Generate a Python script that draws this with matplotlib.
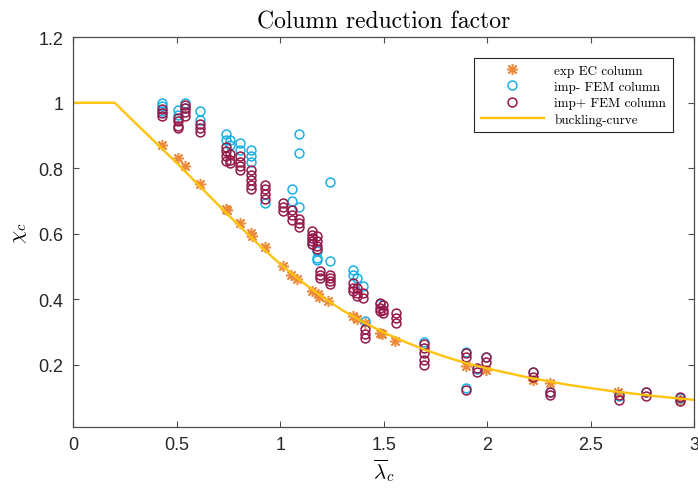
import matplotlib
matplotlib.use("Agg")
import matplotlib.pyplot as plt

# ── data ─────────────────────────────────────────────────────────────
exp_lam = [0.43, 0.505, 0.54, 0.61, 0.74, 0.745, 0.805, 0.86, 0.862, 0.925,
           1.015, 1.05, 1.083, 1.152, 1.184, 1.188, 1.233, 1.353, 1.37, 1.41,
           1.482, 1.49, 1.555, 1.898, 1.995, 2.22, 2.304, 2.634, 2.932]
exp_chi = [0.87, 0.83, 0.807, 0.753, 0.676, 0.672, 0.633, 0.603, 0.593, 0.56,
           0.502, 0.473, 0.462, 0.424, 0.414, 0.405, 0.393, 0.348, 0.339, 0.327,
           0.297, 0.293, 0.273, 0.195, 0.182, 0.152, 0.142, 0.115, 0.093]

neg_lam = [0.43, 0.43, 0.43, 0.505, 0.505, 0.54, 0.54, 0.61, 0.61,
           0.74, 0.74, 0.755, 0.755, 0.805, 0.805, 0.86, 0.86, 0.86, 0.925,
           1.056, 1.056, 1.09, 1.09, 1.09, 1.241, 1.241, 1.152,
           1.18, 1.18, 1.18, 1.35, 1.35, 1.37, 1.399, 1.41, 1.482,
           1.695, 1.898, 1.898, 1.949, 1.995, 2.22, 2.304, 2.636, 2.767, 2.932]
neg_chi = [1.0, 0.99, 0.975, 0.978, 0.962, 0.998, 0.985, 0.975, 0.948,
           0.903, 0.887, 0.885, 0.87, 0.877, 0.857, 0.857, 0.837, 0.82, 0.695,
           0.735, 0.699, 0.903, 0.847, 0.682, 0.757, 0.516, 0.567,
           0.546, 0.526, 0.519, 0.49, 0.475, 0.465, 0.439, 0.332, 0.385,
           0.268, 0.238, 0.128, 0.185, 0.222, 0.176, 0.116, 0.104, 0.116, 0.098]

pos_lam = [0.43, 0.43, 0.43,
           0.505, 0.505, 0.505, 0.505,
           0.54, 0.54, 0.54, 0.54,
           0.61, 0.61, 0.61,
           0.74, 0.74, 0.74, 0.74,
           0.755, 0.755, 0.755,
           0.805, 0.805, 0.805, 0.805,
           0.86, 0.86, 0.86, 0.86, 0.86,
           0.925, 0.925, 0.925, 0.925,
           1.015, 1.015, 1.015,
           1.056, 1.056, 1.056,
           1.091, 1.091, 1.091,
           1.152, 1.152, 1.152, 1.152, 1.152,
           1.18, 1.18, 1.18, 1.18,
           1.192, 1.192, 1.192,
           1.241, 1.241, 1.241, 1.241,
           1.35, 1.35, 1.35,
           1.37, 1.37, 1.37,
           1.399, 1.399,
           1.41, 1.41, 1.41,
           1.482, 1.482, 1.482,
           1.498, 1.498, 1.498,
           1.56, 1.56, 1.56,
           1.695, 1.695, 1.695, 1.695, 1.695,
           1.898, 1.898, 1.898,
           1.949, 1.949,
           1.995, 1.995,
           2.22, 2.22,
           2.304, 2.304,
           2.636, 2.636,
           2.767, 2.767,
           2.932, 2.932]
pos_chi = [0.98, 0.97, 0.96,
           0.952, 0.943, 0.93, 0.922,
           0.993, 0.983, 0.972, 0.958,
           0.935, 0.922, 0.91,
           0.866, 0.852, 0.837, 0.822,
           0.842, 0.826, 0.817,
           0.836, 0.82, 0.806, 0.795,
           0.795, 0.78, 0.765, 0.75, 0.737,
           0.75, 0.735, 0.72, 0.705,
           0.694, 0.682, 0.669,
           0.672, 0.656, 0.641,
           0.645, 0.633, 0.62,
           0.607, 0.597, 0.587, 0.577, 0.567,
           0.592, 0.577, 0.562, 0.552,
           0.485, 0.475, 0.465,
           0.475, 0.465, 0.455, 0.445,
           0.45, 0.434, 0.424,
           0.434, 0.419, 0.409,
           0.419, 0.404,
           0.307, 0.292, 0.282,
           0.389, 0.373, 0.363,
           0.383, 0.368, 0.358,
           0.358, 0.343, 0.327,
           0.262, 0.25, 0.235, 0.215, 0.2,
           0.236, 0.222, 0.123,
           0.188, 0.178,
           0.222, 0.207,
           0.176, 0.162,
           0.116, 0.106,
           0.106, 0.092,
           0.116, 0.105,
           0.1, 0.088]

curve_lam = [0.0, 0.2, 0.3, 0.4, 0.5, 0.6, 0.7, 0.8, 0.9, 1.0, 1.1, 1.2, 1.3,
             1.4, 1.5, 1.6, 1.7, 1.8, 1.9, 2.0, 2.2, 2.4, 2.6, 2.8, 3.0]
curve_chi = [1.0, 1.0, 0.938, 0.877, 0.816, 0.752, 0.688, 0.625, 0.564, 0.507,
             0.455, 0.408, 0.366, 0.330, 0.298, 0.270, 0.245, 0.223, 0.204,
             0.188, 0.160, 0.137, 0.119, 0.104, 0.092]

x_ticks = [0, 0.5, 1, 1.5, 2, 2.5, 3]
x_ticklabels = ["0", "0.5", "1", "1.5", "2", "2.5", "3"]
y_ticks = [0.2, 0.4, 0.6, 0.8, 1.0, 1.2]
y_ticklabels = ["0.2", "0.4", "0.6", "0.8", "1", "1.2"]

# ── style ────────────────────────────────────────────────────────────
C_EXP   = "#EC8A3C"
C_NEG   = "#1BB0E6"
C_POS   = "#951848"
C_CURVE = "#FFC20E"
C_AXIS  = "#4d4d4d"
SERIF   = "cmr10"

plt.rcParams.update({
    "mathtext.fontset": "cm",
    "axes.formatter.use_mathtext": True,
})

fig = plt.figure(figsize=(6.98, 4.89), dpi=100)
ax = fig.add_axes([0.105, 0.1254, 0.8893, 0.7963])

# MATLAB-style '*' marker: 8 spokes
ax.plot(exp_lam, exp_chi, linestyle="none", marker=(8, 2, 0), markersize=8,
        color=C_EXP, markeredgewidth=1.1, label="exp EC column")
ax.plot(neg_lam, neg_chi, linestyle="none", marker="o", markersize=6.4,
        markerfacecolor="none", markeredgecolor=C_NEG, markeredgewidth=1.1,
        label="imp- FEM column")
ax.plot(pos_lam, pos_chi, linestyle="none", marker="o", markersize=6.4,
        markerfacecolor="none", markeredgecolor=C_POS, markeredgewidth=1.1,
        label="imp+ FEM column")
ax.plot(curve_lam, curve_chi, color=C_CURVE, linewidth=1.7,
        label="buckling-curve")

ax.set_xlim(0, 3)
ax.set_ylim(0.01, 1.2)
ax.set_xticks(x_ticks)
ax.set_xticklabels(x_ticklabels)
ax.set_yticks(y_ticks)
ax.set_yticklabels(y_ticklabels)

ax.tick_params(direction="in", length=4, width=0.8, color=C_AXIS,
               labelsize=13, labelcolor="#262626",
               top=True, right=True, pad=7)
for lbl in ax.get_xticklabels() + ax.get_yticklabels():
    lbl.set_fontfamily("Liberation Sans")
for sp in ax.spines.values():
    sp.set_color(C_AXIS)
    sp.set_linewidth(0.9)

ax.set_title("Column reduction factor", fontfamily=SERIF, fontsize=17,
             pad=7)
ax.set_xlabel(r"$\overline{\lambda}_c$", fontsize=15, labelpad=2)
ax.set_ylabel(r"$\chi_c$", fontsize=15, labelpad=7)

leg = ax.legend(loc="upper right", bbox_to_anchor=(0.966, 0.947),
                borderaxespad=0,
                prop={"family": SERIF, "size": 9.5},
                fancybox=False, framealpha=1, edgecolor="#262626",
                handlelength=4.8, handletextpad=0.8, labelspacing=0.3,
                borderpad=0.5)
leg.get_frame().set_linewidth(0.8)

fig.savefig("out.png", dpi=100)
